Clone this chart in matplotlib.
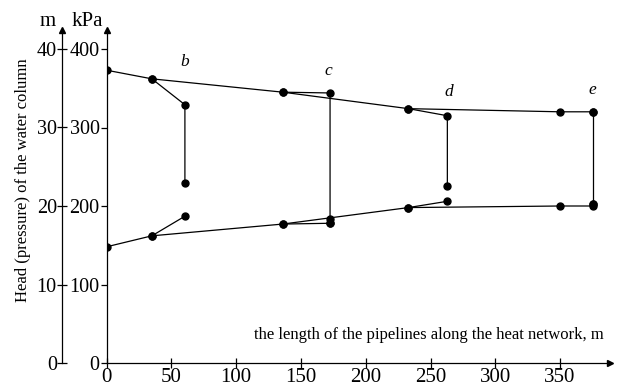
import numpy as np
import matplotlib
matplotlib.use("Agg")
import matplotlib.pyplot as plt

plt.rcParams["font.family"] = ["Liberation Serif", "DejaVu Serif"]

# main pressure lines (length m, pressure kPa)
sup_x = [0, 35, 136, 233, 350, 375]
sup_p = [373, 362, 345, 324, 320, 320]
ret_x = [0, 35, 136, 233, 350, 375]
ret_p = [148, 162, 177, 198, 200, 200]

# branches: (x list, p list)
branches = {
    "b_sup": ([35, 60.5, 60.5], [362, 329, 229]),
    "b_ret": ([35, 60.5], [162, 187]),
    "c_sup": ([136, 172.5, 172.5], [345, 344, 178]),
    "c_ret": ([136, 172.5], [177, 178]),
    "d_sup": ([233, 263, 263], [324, 315, 225]),
    "d_ret": ([233, 263], [198, 206]),
    "e": ([375, 375], [320, 202]),
}
extra_x = [172.5, 375]
extra_p = [184, 202]

labels = ["b", "c", "d", "e"]
label_x = [60.5, 171, 264, 375]
label_p = [373, 362, 335, 338]

xticks = [0, 50, 100, 150, 200, 250, 300, 350]
kpa_ticks = [0, 100, 200, 300, 400]
m_ticks = [0, 10, 20, 30, 40]

W, H = 619, 387
fig = plt.figure(figsize=(W / 100, H / 100), dpi=100)
x0, x1 = 106.5, 610
y0, y1 = 363, 30
ax = fig.add_axes([x0 / W, 1 - y0 / H, (x1 - x0) / W, (y0 - y1) / H])
ax.set_xlim(0, (x1 - x0) / 1.296)
ax.set_ylim(0, (y0 - y1) / 0.785)

kw = dict(color="black", lw=0.9, marker="o", ms=5)
ax.plot(sup_x, sup_p, **kw)
ax.plot(ret_x, ret_p, **kw)
for bx, bp in branches.values():
    ax.plot(bx, bp, **kw)
ax.plot(extra_x, extra_p, "o", color="black", ms=5)

for t, lx, lp in zip(labels, label_x, label_p):
    ax.text(lx, lp, t, style="italic", fontsize=12.5, ha="center", va="bottom")

for s in ["top", "right"]:
    ax.spines[s].set_visible(False)
ax.spines["left"].set_linewidth(0.9)
ax.spines["bottom"].set_linewidth(0.9)
ax.set_xticks(xticks)
ax.set_yticks(kpa_ticks)
ax.tick_params(axis="x", direction="inout", length=7, width=0.9, labelsize=15, pad=0)
ax.tick_params(axis="y", direction="out", length=4, width=0.9, labelsize=14.5, pad=1)
ax.plot(1, 0, ">k", ms=4, transform=ax.transAxes, clip_on=False)
ax.plot(0, 1, "^k", ms=4, transform=ax.transAxes, clip_on=False)
ax.text(0.987, 0.06, "the length of the pipelines along the heat network, m",
        transform=ax.transAxes, ha="right", va="bottom", fontsize=12)

# second axis in metres of water column
mx = 61.7
ax2 = fig.add_axes([mx / W, 1 - y0 / H, 0.001, (y0 - y1) / H])
ax2.set_ylim(0, (y0 - y1) / 0.785 / 10)
ax2.set_xlim(0, 1)
for s in ["top", "right", "bottom"]:
    ax2.spines[s].set_visible(False)
ax2.spines["left"].set_linewidth(0.9)
ax2.set_xticks([])
ax2.set_yticks(m_ticks)
ax2.tick_params(axis="y", direction="inout", length=7, width=0.9, labelsize=14.5, pad=0)
ax2.plot(0, 1, "^k", ms=4, transform=ax2.transAxes, clip_on=False)
ax2.patch.set_visible(False)

fig.text(48 / W, 1 - 21 / H, "m", fontsize=15, ha="center", va="center")
fig.text(87 / W, 1 - 21 / H, "kPa", fontsize=15, ha="center", va="center")
fig.text(23 / W, 1 - 180 / H, "Head (pressure) of the water column", fontsize=12,
         rotation=90, ha="center", va="center")

fig.savefig("out.png", dpi=100)
